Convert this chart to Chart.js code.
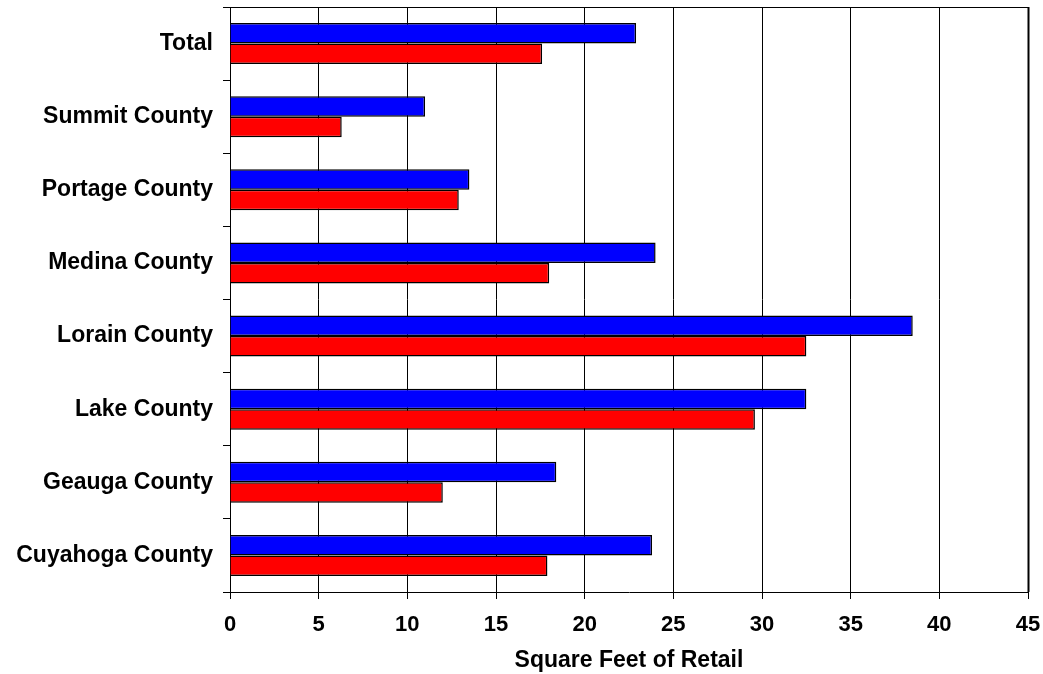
<!DOCTYPE html>
<html>
<head>
<meta charset="utf-8">
<script src="https://cdn.jsdelivr.net/npm/chart.js@4/dist/chart.umd.min.js"></script>
<style>
  html, body { margin: 0; padding: 0; background: #ffffff; }
  #wrap { width: 1043px; height: 674px; position: relative; }
</style>
</head>
<body>
<div id="wrap"><canvas id="chart"></canvas></div>
<script>
// Retail floor space per county
const categories = ['Total', 'Summit County', 'Portage County', 'Medina County',
                    'Lorain County', 'Lake County', 'Geauga County', 'Cuyahoga County'];
const blueValues = [22.9, 11.0, 13.5, 24.0, 38.5, 32.5, 18.4, 23.8];
const redValues  = [17.6, 6.3, 12.9, 18.0, 32.5, 29.6, 12.0, 17.9];
const xTicks = [0, 5, 10, 15, 20, 25, 30, 35, 40, 45];
const xTitle = 'Square Feet of Retail';

const FONT = '"Liberation Sans", Arial, sans-serif';

// Outline the top and right edges of the plot area
const frame = {
  id: 'frame',
  afterDraw(chart) {
    const { ctx, chartArea: a } = chart;
    ctx.save();
    ctx.strokeStyle = '#000';
    ctx.lineWidth = 1;
    ctx.beginPath();
    ctx.moveTo(a.left, a.top + 0.5);
    ctx.lineTo(a.right, a.top + 0.5);
    ctx.stroke();
    ctx.lineWidth = 2;
    ctx.beginPath();
    ctx.moveTo(a.right + 0.5, a.top);
    ctx.lineTo(a.right + 0.5, a.bottom);
    ctx.stroke();
    ctx.restore();
  }
};

new Chart(document.getElementById('chart'), {
  type: 'bar',
  data: {
    labels: categories,
    datasets: [
      { label: 'Series 1', data: blueValues, backgroundColor: '#0000ff',
        borderColor: '#000', borderWidth: 1.5 },
      { label: 'Series 2', data: redValues, backgroundColor: '#ff0000',
        borderColor: '#000', borderWidth: 1.5 }
    ]
  },
  options: {
    indexAxis: 'y',
    responsive: true,
    maintainAspectRatio: false,
    animation: false,
    datasets: { bar: { barPercentage: 1, categoryPercentage: 0.56 } },
    layout: { padding: { top: 7, right: 15, left: 0, bottom: 0 } },
    plugins: { legend: { display: false }, tooltip: { enabled: false } },
    scales: {
      x: {
        type: 'linear',
        min: 0, max: 45,
        afterBuildTicks(scale) { scale.ticks = xTicks.map(v => ({ value: v })); },
        afterFit(scale) { scale.height = 82; scale.paddingLeft = 0; scale.paddingRight = 0; },
        grid: { color: '#000', lineWidth: 1, tickLength: 7, drawTicks: true },
        border: { color: '#000', width: 1 },
        ticks: { color: '#000', padding: 13, font: { family: FONT, size: 22, weight: 'bold' } },
        title: { display: true, text: xTitle, color: '#000',
                 font: { family: FONT, size: 23, weight: 'bold', lineHeight: 1.2 },
                 padding: { top: 0, bottom: 0 } }
      },
      y: {
        type: 'category',
        afterFit(scale) { scale.width = 230; scale.paddingTop = 0; scale.paddingBottom = 0; },
        grid: { drawOnChartArea: false, color: '#000', tickLength: 7, offset: true },
        border: { color: '#000', width: 1 },
        ticks: { color: '#000', padding: 10, font: { family: FONT, size: 23, weight: 'bold' } }
      }
    }
  },
  plugins: [frame]
});
</script>
</body>
</html>
